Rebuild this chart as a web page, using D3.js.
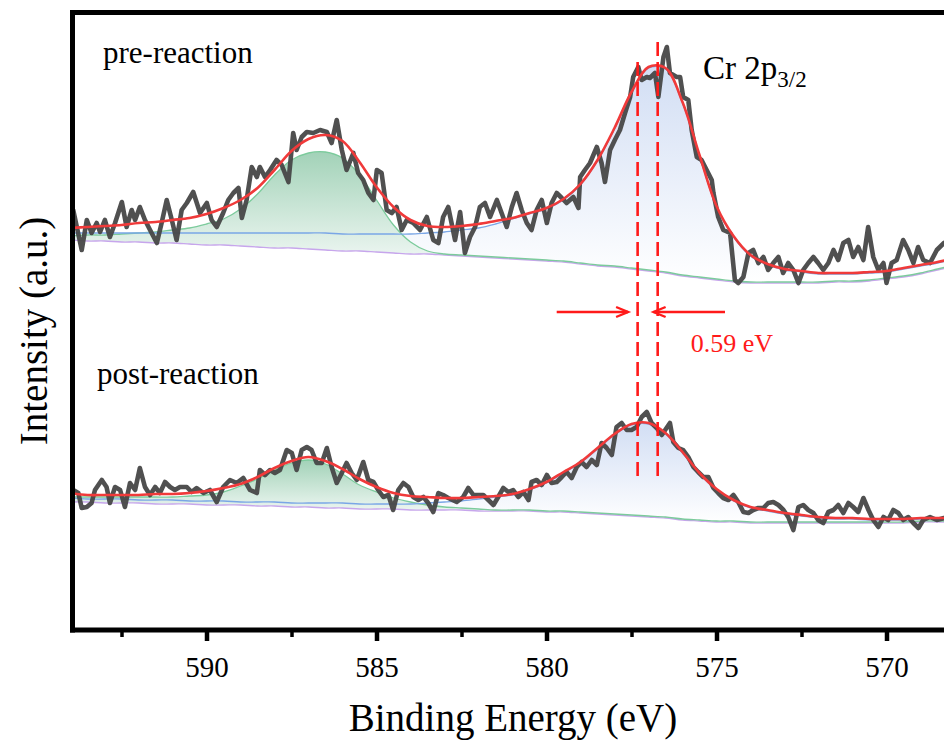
<!DOCTYPE html>
<html>
<head>
<meta charset="utf-8">
<script src="https://cdn.jsdelivr.net/npm/d3@7"></script>
<style>
  body { margin: 0; background: #fff; }
  svg { display: block; font-family: "Liberation Serif", "Times New Roman", serif; }
</style>
</head>
<body>
<div id="chart"></div>
<script>
// Binding energy grid of the fitted curves (eV)
const fitEnergy = [594, 593.5, 593, 592.5, 592, 591.5, 591, 590.5, 590, 589.5, 589, 588.5, 588,
  587.5, 587, 586.5, 586, 585.5, 585, 584.5, 584, 583.5, 583, 582.5, 582, 581.5, 581, 580.5, 580,
  579.5, 579, 578.5, 578, 577.5, 577, 576.5, 576, 575.5, 575, 574.5, 574, 573.5, 573, 572.5, 572,
  571.5, 571, 570.5, 570, 569.5, 569, 568.5, 568];

// pre-reaction fit (envelope, Shirley background, two components incl. background)
const preEnvelope = [402, 403, 404, 405, 407, 408, 410, 412, 416, 422, 430, 442, 460, 479, 491, 495, 489,
  468, 443, 423, 410, 404, 403, 404, 406, 409, 412, 417, 422, 431, 446, 470, 502, 538, 563, 562, 528,
  475, 424, 394, 375, 366, 361, 359, 357, 357, 357, 358, 359, 362, 365, 368, 372];
const preBackground = [390, 389, 389, 388, 388, 387, 387, 386, 385, 385, 384, 383, 382, 382, 381, 380, 379,
  379, 378, 377, 376, 376, 375, 374, 373, 372, 371, 370, 369, 368, 366, 364, 363, 361, 359, 357, 354,
  352, 350, 348, 347, 347, 347, 347, 347, 348, 348, 349, 351, 353, 356, 360, 364];
const preSatellite = [394, 395, 395, 396, 397, 398, 400, 402, 406, 411, 421, 436, 455, 470, 477, 478, 472,
  455, 430, 405, 388, 379, 376, 375, 374, 373, 372, 371, 370, 369, 367, 365, 364, 362, 360, 358, 355,
  353, 351, 349, 348, 348, 348, 348, 348, 349, 349, 350, 352, 354, 357, 361, 365];
const preMain = [397, 397, 397, 397, 397, 397, 397, 397, 397, 397, 397, 397, 397, 397, 397, 397, 396,
  396, 396, 396, 396, 397, 398, 400, 402, 406, 411, 416, 421, 430, 445, 469, 501, 537, 562, 561, 527,
  474, 423, 393, 374, 365, 360, 358, 356, 356, 356, 357, 358, 361, 364, 367, 371];

// post-reaction fit
const postEnvelope = [137, 135, 135, 135, 135, 136, 136, 137, 139, 142, 146, 153, 162, 169, 173, 169, 161,
  151, 143, 137, 134, 133, 132, 132, 133, 134, 136, 141, 148, 158, 168, 182, 196, 206, 207, 197, 178,
  157, 141, 130, 123, 120, 117, 115, 113, 112, 112, 111, 111, 111, 112, 112, 112];
const postBackground = [128, 128, 127, 127, 127, 126, 126, 126, 125, 125, 125, 124, 124, 123, 123, 122, 122,
  121, 121, 121, 120, 120, 120, 120, 119, 119, 119, 119, 118, 118, 117, 116, 115, 114, 113, 112, 110,
  109, 108, 108, 107, 107, 107, 107, 107, 107, 107, 107, 107, 107, 108, 108, 108];
const postSatellite = [133, 133, 133, 133, 133, 133, 133, 134, 135, 138, 144, 151, 160, 167, 170, 166, 156,
  145, 138, 132, 128, 125, 123, 122, 121, 120, 120, 120, 119, 119, 118, 117, 116, 115, 114, 113, 111,
  110, 109, 109, 108, 108, 108, 108, 108, 108, 108, 108, 108, 108, 109, 109, 109];
const postMain = [132, 131, 131, 131, 130, 130, 130, 129, 129, 129, 128, 128, 128, 127, 127, 127, 127,
  126, 126, 126, 126, 127, 128, 129, 131, 133, 135, 140, 147, 157, 167, 181, 195, 205, 206, 196, 177,
  156, 140, 129, 122, 119, 116, 114, 112, 111, 111, 110, 110, 110, 111, 111, 111];

// measured spectra [binding energy, counts]
const preRaw = [[593.92,420],[593.67,380],[593.52,410],[593.38,397],[593.23,407],[593.13,398],[592.99,410],
  [592.84,393],[592.69,407],[592.49,428],[592.35,403],[592.20,420],[592.10,410],[591.96,423],[591.81,410],
  [591.66,400],[591.46,387],[591.32,407],[591.17,430],[591.02,410],[590.88,390],[590.73,420],[590.58,427],
  [590.39,438],[590.19,417],[589.99,427],[589.85,410],[589.70,403],[589.51,417],[589.36,430],[589.21,437],
  [589.06,442],[588.96,412],[588.82,430],[588.67,463],[588.52,453],[588.43,463],[588.28,453],[588.13,460],
  [587.94,470],[587.79,465],[587.59,448],[587.45,497],[587.35,480],[587.20,493],[587.05,498],[586.86,497],
  [586.66,500],[586.46,498],[586.32,487],[586.17,510],[586.02,480],[585.88,460],[585.68,477],[585.54,457],
  [585.39,450],[585.24,437],[585.09,430],[584.99,460],[584.85,457],[584.70,420],[584.55,417],[584.41,423],
  [584.26,400],[584.11,410],[583.92,407],[583.72,400],[583.52,413],[583.33,390],[583.18,387],[583.04,413],
  [582.89,423],[582.69,390],[582.54,418],[582.40,377],[582.25,393],[582.10,403],[581.96,423],[581.81,427],
  [581.66,413],[581.46,430],[581.32,417],[581.17,403],[581.02,423],[580.88,437],[580.73,420],[580.58,407],
  [580.44,400],[580.29,420],[580.14,430],[579.99,407],[579.85,427],[579.70,437],[579.55,432],[579.41,427],
  [579.21,433],[579.06,422],[579.01,453],[578.87,460],[578.72,467],[578.52,483],[578.38,467],[578.28,448],
  [578.13,480],[577.99,490],[577.84,500],[577.69,517],[577.54,533],[577.45,553],[577.30,563],[577.20,550],
  [577.05,553],[576.96,552],[576.81,557],[576.71,533],[576.56,573],[576.46,583],[576.37,557],[576.17,553],
  [576.07,553],[575.98,533],[575.83,530],[575.73,500],[575.58,473],[575.44,470],[575.29,460],[575.14,450],
  [575.09,437],[574.95,413],[574.80,400],[574.60,397],[574.46,350],[574.36,347],[574.21,353],[574.06,377],
  [573.92,380],[573.77,367],[573.62,373],[573.48,360],[573.33,367],[573.18,373],[573.04,357],[572.89,367],
  [572.74,360],[572.59,347],[572.45,360],[572.30,367],[572.15,373],[572.01,367],[571.86,360],[571.71,367],
  [571.56,380],[571.42,370],[571.27,387],[571.12,390],[570.98,373],[570.83,383],[570.68,370],[570.54,403],
  [570.39,373],[570.24,360],[570.09,367],[570.00,347],[569.85,367],[569.70,370],[569.51,390],[569.36,380],
  [569.21,367],[569.07,383],[568.92,370],[568.72,367],[568.52,380],[568.31,387]];

const postRaw = [[593.92,140],[593.77,137],[593.67,122],[593.52,123],[593.38,127],[593.28,140],[593.08,150],
  [592.94,143],[592.84,127],[592.69,143],[592.54,140],[592.40,123],[592.25,147],[592.10,140],[591.96,162],
  [591.81,143],[591.66,135],[591.51,143],[591.37,137],[591.22,148],[591.07,143],[590.93,140],[590.78,143],
  [590.58,143],[590.44,138],[590.29,142],[590.09,137],[589.90,140],[589.70,128],[589.51,143],[589.31,150],
  [589.11,147],[588.92,152],[588.72,140],[588.52,137],[588.43,160],[588.28,155],[588.13,160],[587.99,157],
  [587.84,160],[587.64,180],[587.49,177],[587.35,160],[587.20,180],[587.05,183],[586.91,180],[586.76,167],
  [586.61,167],[586.46,182],[586.32,163],[586.17,147],[586.02,157],[585.88,167],[585.73,157],[585.58,150],
  [585.39,168],[585.24,150],[585.09,148],[584.95,140],[584.80,133],[584.65,135],[584.51,120],[584.36,140],
  [584.21,147],[584.06,143],[583.92,133],[583.77,130],[583.62,133],[583.48,127],[583.33,118],[583.18,137],
  [583.04,135],[582.89,132],[582.64,128],[582.45,133],[582.30,142],[582.15,135],[582.00,135],[581.86,135],
  [581.71,130],[581.56,125],[581.42,133],[581.27,142],[581.12,138],[580.98,140],[580.83,133],[580.68,138],
  [580.53,130],[580.44,148],[580.29,150],[580.14,145],[579.99,155],[579.85,147],[579.70,148],[579.55,153],
  [579.41,158],[579.26,152],[579.11,163],[578.97,168],[578.82,163],[578.67,170],[578.52,165],[578.38,187],
  [578.23,182],[578.08,175],[577.94,203],[577.79,207],[577.64,200],[577.50,200],[577.35,203],[577.20,213],
  [577.05,218],[576.91,207],[576.76,202],[576.61,195],[576.51,200],[576.37,207],[576.27,188],[576.12,182],
  [575.98,180],[575.83,173],[575.68,163],[575.54,158],[575.39,153],[575.24,153],[575.09,142],[574.95,137],
  [574.80,132],[574.65,130],[574.50,135],[574.36,128],[574.21,118],[574.06,117],[573.92,120],[573.77,122],
  [573.62,122],[573.48,127],[573.33,128],[573.18,125],[573.03,120],[572.89,113],[572.74,100],[572.59,123],
  [572.45,125],[572.30,120],[572.15,117],[572.01,110],[571.86,107],[571.71,118],[571.56,120],[571.42,125],
  [571.27,117],[571.12,127],[570.98,123],[570.83,118],[570.68,132],[570.53,120],[570.39,110],[570.24,103],
  [570.09,113],[569.95,110],[569.80,120],[569.65,117],[569.51,110],[569.36,113],[569.21,107],[569.06,102],
  [568.92,110],[568.72,113],[568.52,110],[568.31,112]];

// axis ticks
const majorTicks = [590, 585, 580, 575, 570];
const minorTicks = [592.5, 587.5, 582.5, 577.5, 572.5, 567.5];

// Cr 2p3/2 peak positions (eV): post-reaction, pre-reaction
const peakPost = 577.32;
const peakPre = 576.73;

const width = 944;
const height = 746;
const marginLeft = 72.5, marginTop = 12.5, axisY = 630;

const svg = d3.select("#chart").append("svg")
    .attr("width", width)
    .attr("height", height);

const x = d3.scaleLinear().domain([594, 566]).range([70.5, 1022.5]);
const y = d3.scaleLinear().domain([0, 620]).range([axisY, 10]);

const defs = svg.append("defs");
defs.append("clipPath").attr("id", "clip")
  .append("rect")
    .attr("x", marginLeft).attr("y", marginTop)
    .attr("width", width - marginLeft).attr("height", axisY - marginTop);

function gradient(id, color) {
  const g = defs.append("linearGradient")
      .attr("id", id)
      .attr("x1", 0).attr("y1", 0).attr("x2", 0).attr("y2", 1);
  g.append("stop").attr("offset", "0%").attr("stop-color", color);
  g.append("stop").attr("offset", "100%").attr("stop-color", "#ffffff");
}
gradient("blueFill", "#d2def4");
gradient("greenFill", "#98cdb0");

const plot = svg.append("g").attr("clip-path", "url(#clip)");

const fitLine = vals => d3.line()
    .x((d, i) => x(fitEnergy[i]))
    .y(d => y(d))
    .curve(d3.curveCatmullRom)(vals);

const fitArea = (vals, base) => d3.area()
    .x((d, i) => x(fitEnergy[i]))
    .y0((d, i) => y(base[i]))
    .y1(d => y(d))
    .curve(d3.curveCatmullRom)(vals);

const rawLine = d3.line()
    .x(d => x(d[0]))
    .y(d => y(d[1]));

const panels = [
  { raw: preRaw, env: preEnvelope, bg: preBackground, sat: preSatellite, main: preMain },
  { raw: postRaw, env: postEnvelope, bg: postBackground, sat: postSatellite, main: postMain }
];

panels.forEach(p => {
  plot.append("path").attr("d", fitArea(p.main, p.bg)).attr("fill", "url(#blueFill)");
  plot.append("path").attr("d", fitArea(p.sat, p.bg)).attr("fill", "url(#greenFill)").attr("fill-opacity", 0.9);
  plot.append("path").attr("d", fitLine(p.bg)).attr("fill", "none")
      .attr("stroke", "#c7a6ec").attr("stroke-width", 1.3);
  plot.append("path").attr("d", fitLine(p.sat)).attr("fill", "none")
      .attr("stroke", "#7ccb9c").attr("stroke-width", 1.3);
  plot.append("path").attr("d", fitLine(p.main)).attr("fill", "none")
      .attr("stroke", "#7aa6e6").attr("stroke-width", 1.3);
  plot.append("path").attr("d", rawLine(p.raw)).attr("fill", "none")
      .attr("stroke", "#474747").attr("stroke-width", 4.6)
      .attr("stroke-linejoin", "round").attr("stroke-linecap", "round")
      .attr("stroke-opacity", 0.95);
  plot.append("path").attr("d", fitLine(p.env)).attr("fill", "none")
      .attr("stroke", "#f03a3a").attr("stroke-width", 2.6);
});

// peak shift guides
const red = "#ff1a1a";
[[peakPost, 568], [peakPre, 588]].forEach(([e, t]) => {
  svg.append("line")
      .attr("x1", x(e)).attr("x2", x(e))
      .attr("y1", y(t)).attr("y2", y(152))
      .attr("stroke", red).attr("stroke-width", 2.6)
      .attr("stroke-dasharray", "14,6");
});

const arrowY = y(318);
function arrow(from, to) {
  const x0 = x(from), x1 = x(to);
  const dir = Math.sign(x1 - x0);
  svg.append("line")
      .attr("x1", x0).attr("x2", x1).attr("y1", arrowY).attr("y2", arrowY)
      .attr("stroke", red).attr("stroke-width", 2.4);
  svg.append("path")
      .attr("d", `M${x1 - dir * 12},${arrowY - 5}L${x1},${arrowY}L${x1 - dir * 12},${arrowY + 5}`)
      .attr("fill", "none").attr("stroke", red).attr("stroke-width", 2.4);
}
arrow(peakPost + 2.38, peakPost + 0.28);
arrow(peakPre - 1.98, peakPre + 0.12);

svg.append("text")
    .attr("x", x(peakPre) + 33).attr("y", 352)
    .attr("fill", red).attr("font-size", 26)
    .text("0.59 eV");

// frame
const frame = svg.append("g").attr("stroke", "#000").attr("stroke-width", 5);
frame.append("line").attr("x1", marginLeft).attr("x2", marginLeft).attr("y1", marginTop - 2.5).attr("y2", axisY + 2.5);
frame.append("line").attr("x1", marginLeft - 2.5).attr("x2", width).attr("y1", marginTop).attr("y2", marginTop);
frame.append("line").attr("x1", marginLeft - 2.5).attr("x2", width).attr("y1", axisY).attr("y2", axisY);

// x axis
const axisG = svg.append("g").attr("transform", `translate(0,${axisY + 2})`);
axisG.call(d3.axisBottom(x).tickValues(majorTicks).tickSize(9).tickFormat(d3.format("d")));
axisG.select(".domain").remove();
axisG.selectAll(".tick line").attr("stroke-width", 4.5);
axisG.selectAll(".tick text")
    .attr("dy", null).attr("y", 45)
    .attr("font-size", 29)
    .attr("font-family", "Liberation Serif, Times New Roman, serif")
    .attr("fill", "#000");

const minorG = svg.append("g").attr("transform", `translate(0,${axisY + 2})`);
minorG.call(d3.axisBottom(x).tickValues(minorTicks).tickSize(5).tickFormat(""));
minorG.select(".domain").remove();
minorG.selectAll(".tick line").attr("stroke-width", 3.5);

// titles
svg.append("text")
    .attr("x", 513).attr("y", 731)
    .attr("text-anchor", "middle").attr("font-size", 39)
    .text("Binding Energy (eV)");

svg.append("text")
    .attr("transform", "translate(47,331) rotate(-90)")
    .attr("text-anchor", "middle").attr("font-size", 39)
    .text("Intensity (a.u.)");

svg.append("text")
    .attr("x", 103).attr("y", 63)
    .attr("font-size", 31)
    .text("pre-reaction");

svg.append("text")
    .attr("x", 97).attr("y", 384)
    .attr("font-size", 31)
    .text("post-reaction");

const cr = svg.append("text")
    .attr("x", 703).attr("y", 79)
    .attr("font-size", 33);
cr.append("tspan").text("Cr 2p");
cr.append("tspan").attr("dy", 8).attr("font-size", 23).text("3/2");
</script>
</body>
</html>
